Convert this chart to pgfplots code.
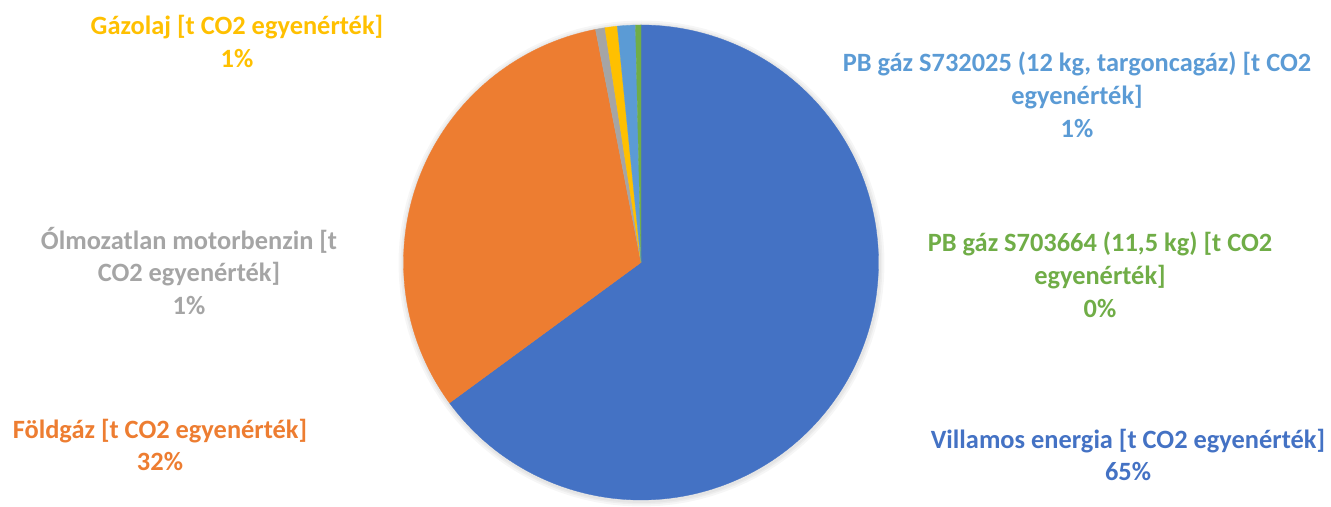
\documentclass[border=0pt]{standalone}
\usepackage{fontspec}
\setmainfont{Carlito}
\usepackage{pgfplots}
\usepackage{pgfplotstable}
\pgfplotsset{compat=1.18}

\definecolor{cBlue}{HTML}{4472C4}
\definecolor{cOrange}{HTML}{ED7D31}
\definecolor{cGray}{HTML}{A5A5A5}
\definecolor{cYellow}{HTML}{FFC000}
\definecolor{cLBlue}{HTML}{5B9BD5}
\definecolor{cGreen}{HTML}{70AD47}

% share of each source, in percent, clockwise from 12 o'clock
\pgfplotstableread{
part value
1 64.93
2 32.00
3 0.64
4 0.84
5 1.22
6 0.37
}\piedata

% cumulative angles of the slice borders
\pgfmathsetmacro\aA{0}
\pgfplotstablegetelem{0}{value}\of\piedata \pgfmathsetmacro\aB{\aA+3.6*\pgfplotsretval}
\pgfplotstablegetelem{1}{value}\of\piedata \pgfmathsetmacro\aC{\aB+3.6*\pgfplotsretval}
\pgfplotstablegetelem{2}{value}\of\piedata \pgfmathsetmacro\aD{\aC+3.6*\pgfplotsretval}
\pgfplotstablegetelem{3}{value}\of\piedata \pgfmathsetmacro\aE{\aD+3.6*\pgfplotsretval}
\pgfplotstablegetelem{4}{value}\of\piedata \pgfmathsetmacro\aF{\aE+3.6*\pgfplotsretval}
\pgfmathsetmacro\aG{360}

\tikzset{
  slice/.style={line width=0.3pt, draw=#1, fill=#1},
  shade ring/.style={draw=none, fill=black, fill opacity=0.035},
  lbl/.style={font=\fontsize{26.5}{33}\selectfont\bfseries, align=center, text=#1},
}

\begin{document}
\begin{tikzpicture}
\begin{axis}[
  scale only axis,
  width=1331bp, height=501bp,
  xmin=0, xmax=1331, ymin=0, ymax=501,
  hide axis, clip=false,
]
\path (axis cs:0,0) rectangle (axis cs:1331,501);
% soft shadow behind the pie
\addplot[shade ring, domain=0:360, samples=120] ({641.5+243*sin(x)},{237.5+243*cos(x)}) -- cycle;
\addplot[shade ring, domain=0:360, samples=120] ({641.5+241*sin(x)},{237.5+241*cos(x)}) -- cycle;
\addplot[shade ring, domain=0:360, samples=120] ({641.5+239.5*sin(x)},{237.5+239.5*cos(x)}) -- cycle;

\addplot[slice=cBlue, domain=\aA:\aB, samples=200] ({641+237.5*sin(x)},{238.5+237.5*cos(x)}) -- (axis cs:641,238.5) -- cycle;
\addplot[slice=cOrange, domain=\aB:\aC, samples=100] ({641+237.5*sin(x)},{238.5+237.5*cos(x)}) -- (axis cs:641,238.5) -- cycle;
\addplot[slice=cGray, domain=\aC:\aD, samples=5] ({641+237.5*sin(x)},{238.5+237.5*cos(x)}) -- (axis cs:641,238.5) -- cycle;
\addplot[slice=cYellow, domain=\aD:\aE, samples=5] ({641+237.5*sin(x)},{238.5+237.5*cos(x)}) -- (axis cs:641,238.5) -- cycle;
\addplot[slice=cLBlue, domain=\aE:\aF, samples=6] ({641+237.5*sin(x)},{238.5+237.5*cos(x)}) -- (axis cs:641,238.5) -- cycle;
\addplot[slice=cGreen, domain=\aF:\aG, samples=4] ({641+237.5*sin(x)},{238.5+237.5*cos(x)}) -- (axis cs:641,238.5) -- cycle;

\node[lbl=cYellow] at (axis cs:237,459.5) {Gázolaj [t CO2 egyenérték]\\1\%};
\node[lbl=cLBlue] at (axis cs:1077,406) {PB gáz S732025 (12 kg, targoncagáz) [t CO2\\egyenérték]\\1\%};
\node[lbl=cGray] at (axis cs:189,230) {Ólmozatlan motorbenzin [t\\CO2 egyenérték]\\1\%};
\node[lbl=cGreen] at (axis cs:1100,226) {PB gáz S703664 (11,5 kg) [t CO2\\egyenérték]\\0\%};
\node[lbl=cOrange] at (axis cs:160,56) {Földgáz [t CO2 egyenérték]\\32\%};
\node[lbl=cBlue] at (axis cs:1128,46) {Villamos energia [t CO2 egyenérték]\\65\%};
\end{axis}
\end{tikzpicture}
\end{document}
